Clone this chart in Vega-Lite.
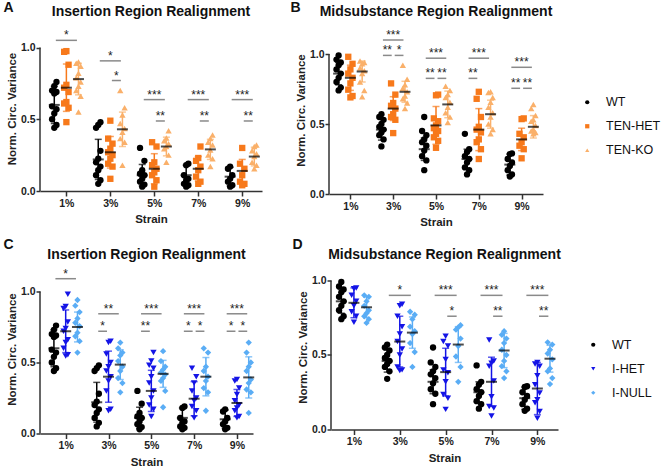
{
  "$schema": "https://vega.github.io/schema/vega-lite/v6.json",
  "padding": {"left": 3, "top": 0, "right": 0, "bottom": 0},
  "config": {
    "font": "Liberation Sans",
    "view": {"stroke": null},
    "title": {"font": "Liberation Sans", "fontSize": 14, "fontWeight": "bold", "color": "#111"},
    "text": {"font": "Liberation Sans"},
    "axis": {"grid": false, "labelFont": "Liberation Sans", "titleFont": "Liberation Sans", "labelFontSize": 10.5, "labelFontWeight": "bold", "labelColor": "#222", "titleFontSize": 11.5, "titleFontWeight": "bold", "titleColor": "#222", "domainColor": "#333", "domainWidth": 1.5, "tickColor": "#333", "tickWidth": 1.5},
    "axisX": {"tickSize": 5, "labelPadding": 2, "titlePadding": 5, "labelAngle": 0},
    "axisY": {"tickSize": 4, "labelPadding": 1, "titlePadding": 3, "domain": false},
    "legend": {"labelFontSize": 12.5, "labelFont": "Liberation Sans", "labelColor": "#111", "symbolSize": 18, "rowPadding": 11, "labelOffset": 12.5, "padding": 0, "symbolStrokeWidth": 0}
  },
  "datasets": {
    "insTEN": [
      {"strain":1,"group":"WT","value":0.76},{"strain":1,"group":"WT","value":0.73},{"strain":1,"group":"WT","value":0.70},{"strain":1,"group":"WT","value":0.69},{"strain":1,"group":"WT","value":0.68},{"strain":1,"group":"WT","value":0.59},{"strain":1,"group":"WT","value":0.57},{"strain":1,"group":"WT","value":0.54},{"strain":1,"group":"WT","value":0.50},{"strain":1,"group":"WT","value":0.46},{"strain":1,"group":"WT","value":0.44},
      {"strain":1,"group":"TEN-HET","value":0.975},{"strain":1,"group":"TEN-HET","value":0.97},{"strain":1,"group":"TEN-HET","value":0.88},{"strain":1,"group":"TEN-HET","value":0.74},{"strain":1,"group":"TEN-HET","value":0.72},{"strain":1,"group":"TEN-HET","value":0.69},{"strain":1,"group":"TEN-HET","value":0.62},{"strain":1,"group":"TEN-HET","value":0.61},{"strain":1,"group":"TEN-HET","value":0.58},{"strain":1,"group":"TEN-HET","value":0.48},
      {"strain":1,"group":"TEN-KO","value":0.90},{"strain":1,"group":"TEN-KO","value":0.89},{"strain":1,"group":"TEN-KO","value":0.87},{"strain":1,"group":"TEN-KO","value":0.82},{"strain":1,"group":"TEN-KO","value":0.79},{"strain":1,"group":"TEN-KO","value":0.76},{"strain":1,"group":"TEN-KO","value":0.73},{"strain":1,"group":"TEN-KO","value":0.70},{"strain":1,"group":"TEN-KO","value":0.66},{"strain":1,"group":"TEN-KO","value":0.55},
      {"strain":3,"group":"WT","value":0.48},{"strain":3,"group":"WT","value":0.46},{"strain":3,"group":"WT","value":0.44},{"strain":3,"group":"WT","value":0.28},{"strain":3,"group":"WT","value":0.225},{"strain":3,"group":"WT","value":0.20},{"strain":3,"group":"WT","value":0.17},{"strain":3,"group":"WT","value":0.145},{"strain":3,"group":"WT","value":0.11},{"strain":3,"group":"WT","value":0.075},{"strain":3,"group":"WT","value":0.05},
      {"strain":3,"group":"TEN-HET","value":0.49},{"strain":3,"group":"TEN-HET","value":0.365},{"strain":3,"group":"TEN-HET","value":0.33},{"strain":3,"group":"TEN-HET","value":0.295},{"strain":3,"group":"TEN-HET","value":0.27},{"strain":3,"group":"TEN-HET","value":0.25},{"strain":3,"group":"TEN-HET","value":0.225},{"strain":3,"group":"TEN-HET","value":0.19},{"strain":3,"group":"TEN-HET","value":0.17},{"strain":3,"group":"TEN-HET","value":0.085},
      {"strain":3,"group":"TEN-KO","value":0.70},{"strain":3,"group":"TEN-KO","value":0.58},{"strain":3,"group":"TEN-KO","value":0.53},{"strain":3,"group":"TEN-KO","value":0.47},{"strain":3,"group":"TEN-KO","value":0.435},{"strain":3,"group":"TEN-KO","value":0.41},{"strain":3,"group":"TEN-KO","value":0.365},{"strain":3,"group":"TEN-KO","value":0.34},{"strain":3,"group":"TEN-KO","value":0.18},
      {"strain":5,"group":"WT","value":0.30},{"strain":5,"group":"WT","value":0.21},{"strain":5,"group":"WT","value":0.145},{"strain":5,"group":"WT","value":0.12},{"strain":5,"group":"WT","value":0.11},{"strain":5,"group":"WT","value":0.085},{"strain":5,"group":"WT","value":0.065},{"strain":5,"group":"WT","value":0.045},{"strain":5,"group":"WT","value":0.03},
      {"strain":5,"group":"TEN-HET","value":0.34},{"strain":5,"group":"TEN-HET","value":0.31},{"strain":5,"group":"TEN-HET","value":0.20},{"strain":5,"group":"TEN-HET","value":0.18},{"strain":5,"group":"TEN-HET","value":0.155},{"strain":5,"group":"TEN-HET","value":0.13},{"strain":5,"group":"TEN-HET","value":0.11},{"strain":5,"group":"TEN-HET","value":0.075},{"strain":5,"group":"TEN-HET","value":0.03},
      {"strain":5,"group":"TEN-KO","value":0.42},{"strain":5,"group":"TEN-KO","value":0.37},{"strain":5,"group":"TEN-KO","value":0.35},{"strain":5,"group":"TEN-KO","value":0.33},{"strain":5,"group":"TEN-KO","value":0.31},{"strain":5,"group":"TEN-KO","value":0.295},{"strain":5,"group":"TEN-KO","value":0.25},{"strain":5,"group":"TEN-KO","value":0.20},
      {"strain":7,"group":"WT","value":0.19},{"strain":7,"group":"WT","value":0.18},{"strain":7,"group":"WT","value":0.11},{"strain":7,"group":"WT","value":0.085},{"strain":7,"group":"WT","value":0.075},{"strain":7,"group":"WT","value":0.05},{"strain":7,"group":"WT","value":0.04},{"strain":7,"group":"WT","value":0.03},
      {"strain":7,"group":"TEN-HET","value":0.31},{"strain":7,"group":"TEN-HET","value":0.23},{"strain":7,"group":"TEN-HET","value":0.21},{"strain":7,"group":"TEN-HET","value":0.17},{"strain":7,"group":"TEN-HET","value":0.145},{"strain":7,"group":"TEN-HET","value":0.10},{"strain":7,"group":"TEN-HET","value":0.065},{"strain":7,"group":"TEN-HET","value":0.05},
      {"strain":7,"group":"TEN-KO","value":0.39},{"strain":7,"group":"TEN-KO","value":0.365},{"strain":7,"group":"TEN-KO","value":0.34},{"strain":7,"group":"TEN-KO","value":0.32},{"strain":7,"group":"TEN-KO","value":0.285},{"strain":7,"group":"TEN-KO","value":0.25},{"strain":7,"group":"TEN-KO","value":0.225},{"strain":7,"group":"TEN-KO","value":0.17},
      {"strain":9,"group":"WT","value":0.17},{"strain":9,"group":"WT","value":0.155},{"strain":9,"group":"WT","value":0.11},{"strain":9,"group":"WT","value":0.085},{"strain":9,"group":"WT","value":0.065},{"strain":9,"group":"WT","value":0.04},{"strain":9,"group":"WT","value":0.03},
      {"strain":9,"group":"TEN-HET","value":0.30},{"strain":9,"group":"TEN-HET","value":0.19},{"strain":9,"group":"TEN-HET","value":0.155},{"strain":9,"group":"TEN-HET","value":0.11},{"strain":9,"group":"TEN-HET","value":0.065},{"strain":9,"group":"TEN-HET","value":0.05},{"strain":9,"group":"TEN-HET","value":0.04},
      {"strain":9,"group":"TEN-KO","value":0.32},{"strain":9,"group":"TEN-KO","value":0.31},{"strain":9,"group":"TEN-KO","value":0.28},{"strain":9,"group":"TEN-KO","value":0.26},{"strain":9,"group":"TEN-KO","value":0.24},{"strain":9,"group":"TEN-KO","value":0.20},{"strain":9,"group":"TEN-KO","value":0.18},{"strain":9,"group":"TEN-KO","value":0.155}
    ],
    "insTEN_s": [
      {"strain":1,"group":"WT","mean":0.60,"lo":0.47,"hi":0.73},{"strain":1,"group":"TEN-HET","mean":0.72,"lo":0.555,"hi":0.885},{"strain":1,"group":"TEN-KO","mean":0.78,"lo":0.67,"hi":0.89},
      {"strain":3,"group":"WT","mean":0.22,"lo":0.08,"hi":0.36},{"strain":3,"group":"TEN-HET","mean":0.27,"lo":0.16,"hi":0.38},{"strain":3,"group":"TEN-KO","mean":0.43,"lo":0.31,"hi":0.55},
      {"strain":5,"group":"WT","mean":0.11,"lo":0.035,"hi":0.185},{"strain":5,"group":"TEN-HET","mean":0.155,"lo":0.05,"hi":0.26},{"strain":5,"group":"TEN-KO","mean":0.31,"lo":0.245,"hi":0.375},
      {"strain":7,"group":"WT","mean":0.11,"lo":0.04,"hi":0.18},{"strain":7,"group":"TEN-HET","mean":0.155,"lo":0.07,"hi":0.24},{"strain":7,"group":"TEN-KO","mean":0.29,"lo":0.22,"hi":0.36},
      {"strain":9,"group":"WT","mean":0.10,"lo":0.035,"hi":0.165},{"strain":9,"group":"TEN-HET","mean":0.14,"lo":0.06,"hi":0.22},{"strain":9,"group":"TEN-KO","mean":0.24,"lo":0.175,"hi":0.305}
    ],
    "insTEN_p": [
      {"strain":1,"from":"WT","to":"TEN-KO","y":1.05,"label":"*"},
      {"strain":3,"from":"WT","to":"TEN-KO","y":0.907,"label":"*"},{"strain":3,"from":"TEN-HET","to":"TEN-KO","y":0.77,"label":"*"},
      {"strain":5,"from":"WT","to":"TEN-KO","y":0.637,"label":"***"},{"strain":5,"from":"TEN-HET","to":"TEN-KO","y":0.488,"label":"**"},
      {"strain":7,"from":"WT","to":"TEN-KO","y":0.637,"label":"***"},{"strain":7,"from":"TEN-HET","to":"TEN-KO","y":0.488,"label":"**"},
      {"strain":9,"from":"WT","to":"TEN-KO","y":0.637,"label":"***"},{"strain":9,"from":"TEN-HET","to":"TEN-KO","y":0.488,"label":"**"}
    ],
    "midTEN": [
      {"strain":1,"group":"WT","value":0.99},{"strain":1,"group":"WT","value":0.96},{"strain":1,"group":"WT","value":0.94},{"strain":1,"group":"WT","value":0.92},{"strain":1,"group":"WT","value":0.89},{"strain":1,"group":"WT","value":0.86},{"strain":1,"group":"WT","value":0.83},{"strain":1,"group":"WT","value":0.80},{"strain":1,"group":"WT","value":0.76},{"strain":1,"group":"WT","value":0.74},
      {"strain":1,"group":"TEN-HET","value":0.98},{"strain":1,"group":"TEN-HET","value":0.93},{"strain":1,"group":"TEN-HET","value":0.89},{"strain":1,"group":"TEN-HET","value":0.86},{"strain":1,"group":"TEN-HET","value":0.83},{"strain":1,"group":"TEN-HET","value":0.79},{"strain":1,"group":"TEN-HET","value":0.745},{"strain":1,"group":"TEN-HET","value":0.70},{"strain":1,"group":"TEN-HET","value":0.69},
      {"strain":1,"group":"TEN-KO","value":0.95},{"strain":1,"group":"TEN-KO","value":0.94},{"strain":1,"group":"TEN-KO","value":0.93},{"strain":1,"group":"TEN-KO","value":0.90},{"strain":1,"group":"TEN-KO","value":0.88},{"strain":1,"group":"TEN-KO","value":0.86},{"strain":1,"group":"TEN-KO","value":0.80},{"strain":1,"group":"TEN-KO","value":0.74},{"strain":1,"group":"TEN-KO","value":0.695},
      {"strain":3,"group":"WT","value":0.57},{"strain":3,"group":"WT","value":0.55},{"strain":3,"group":"WT","value":0.53},{"strain":3,"group":"WT","value":0.50},{"strain":3,"group":"WT","value":0.48},{"strain":3,"group":"WT","value":0.46},{"strain":3,"group":"WT","value":0.44},{"strain":3,"group":"WT","value":0.42},{"strain":3,"group":"WT","value":0.39},{"strain":3,"group":"WT","value":0.34},
      {"strain":3,"group":"TEN-HET","value":0.79},{"strain":3,"group":"TEN-HET","value":0.71},{"strain":3,"group":"TEN-HET","value":0.65},{"strain":3,"group":"TEN-HET","value":0.63},{"strain":3,"group":"TEN-HET","value":0.61},{"strain":3,"group":"TEN-HET","value":0.57},{"strain":3,"group":"TEN-HET","value":0.55},{"strain":3,"group":"TEN-HET","value":0.53},{"strain":3,"group":"TEN-HET","value":0.435},
      {"strain":3,"group":"TEN-KO","value":0.92},{"strain":3,"group":"TEN-KO","value":0.82},{"strain":3,"group":"TEN-KO","value":0.78},{"strain":3,"group":"TEN-KO","value":0.755},{"strain":3,"group":"TEN-KO","value":0.73},{"strain":3,"group":"TEN-KO","value":0.70},{"strain":3,"group":"TEN-KO","value":0.68},{"strain":3,"group":"TEN-KO","value":0.65},{"strain":3,"group":"TEN-KO","value":0.61},
      {"strain":5,"group":"WT","value":0.55},{"strain":5,"group":"WT","value":0.45},{"strain":5,"group":"WT","value":0.42},{"strain":5,"group":"WT","value":0.39},{"strain":5,"group":"WT","value":0.37},{"strain":5,"group":"WT","value":0.345},{"strain":5,"group":"WT","value":0.31},{"strain":5,"group":"WT","value":0.27},{"strain":5,"group":"WT","value":0.24},{"strain":5,"group":"WT","value":0.17},
      {"strain":5,"group":"TEN-HET","value":0.71},{"strain":5,"group":"TEN-HET","value":0.705},{"strain":5,"group":"TEN-HET","value":0.54},{"strain":5,"group":"TEN-HET","value":0.52},{"strain":5,"group":"TEN-HET","value":0.49},{"strain":5,"group":"TEN-HET","value":0.47},{"strain":5,"group":"TEN-HET","value":0.45},{"strain":5,"group":"TEN-HET","value":0.43},{"strain":5,"group":"TEN-HET","value":0.405},{"strain":5,"group":"TEN-HET","value":0.38},{"strain":5,"group":"TEN-HET","value":0.33},
      {"strain":5,"group":"TEN-KO","value":0.77},{"strain":5,"group":"TEN-KO","value":0.74},{"strain":5,"group":"TEN-KO","value":0.71},{"strain":5,"group":"TEN-KO","value":0.69},{"strain":5,"group":"TEN-KO","value":0.655},{"strain":5,"group":"TEN-KO","value":0.62},{"strain":5,"group":"TEN-KO","value":0.58},{"strain":5,"group":"TEN-KO","value":0.55},{"strain":5,"group":"TEN-KO","value":0.51},
      {"strain":7,"group":"WT","value":0.43},{"strain":7,"group":"WT","value":0.32},{"strain":7,"group":"WT","value":0.30},{"strain":7,"group":"WT","value":0.27},{"strain":7,"group":"WT","value":0.25},{"strain":7,"group":"WT","value":0.225},{"strain":7,"group":"WT","value":0.19},{"strain":7,"group":"WT","value":0.17},{"strain":7,"group":"WT","value":0.14},
      {"strain":7,"group":"TEN-HET","value":0.73},{"strain":7,"group":"TEN-HET","value":0.68},{"strain":7,"group":"TEN-HET","value":0.55},{"strain":7,"group":"TEN-HET","value":0.48},{"strain":7,"group":"TEN-HET","value":0.46},{"strain":7,"group":"TEN-HET","value":0.44},{"strain":7,"group":"TEN-HET","value":0.39},{"strain":7,"group":"TEN-HET","value":0.37},{"strain":7,"group":"TEN-HET","value":0.32},{"strain":7,"group":"TEN-HET","value":0.25},
      {"strain":7,"group":"TEN-KO","value":0.73},{"strain":7,"group":"TEN-KO","value":0.725},{"strain":7,"group":"TEN-KO","value":0.69},{"strain":7,"group":"TEN-KO","value":0.655},{"strain":7,"group":"TEN-KO","value":0.62},{"strain":7,"group":"TEN-KO","value":0.58},{"strain":7,"group":"TEN-KO","value":0.55},{"strain":7,"group":"TEN-KO","value":0.50},{"strain":7,"group":"TEN-KO","value":0.46},{"strain":7,"group":"TEN-KO","value":0.43},
      {"strain":9,"group":"WT","value":0.29},{"strain":9,"group":"WT","value":0.285},{"strain":9,"group":"WT","value":0.25},{"strain":9,"group":"WT","value":0.225},{"strain":9,"group":"WT","value":0.20},{"strain":9,"group":"WT","value":0.17},{"strain":9,"group":"WT","value":0.14},{"strain":9,"group":"WT","value":0.125},
      {"strain":9,"group":"TEN-HET","value":0.54},{"strain":9,"group":"TEN-HET","value":0.535},{"strain":9,"group":"TEN-HET","value":0.43},{"strain":9,"group":"TEN-HET","value":0.405},{"strain":9,"group":"TEN-HET","value":0.37},{"strain":9,"group":"TEN-HET","value":0.345},{"strain":9,"group":"TEN-HET","value":0.32},{"strain":9,"group":"TEN-HET","value":0.255},
      {"strain":9,"group":"TEN-KO","value":0.64},{"strain":9,"group":"TEN-KO","value":0.61},{"strain":9,"group":"TEN-KO","value":0.56},{"strain":9,"group":"TEN-KO","value":0.53},{"strain":9,"group":"TEN-KO","value":0.52},{"strain":9,"group":"TEN-KO","value":0.49},{"strain":9,"group":"TEN-KO","value":0.46},{"strain":9,"group":"TEN-KO","value":0.45},{"strain":9,"group":"TEN-KO","value":0.44},{"strain":9,"group":"TEN-KO","value":0.43}
    ],
    "midTEN_s": [
      {"strain":1,"group":"WT","mean":0.86,"lo":0.78,"hi":0.94},{"strain":1,"group":"TEN-HET","mean":0.83,"lo":0.74,"hi":0.92},{"strain":1,"group":"TEN-KO","mean":0.875,"lo":0.80,"hi":0.95},
      {"strain":3,"group":"WT","mean":0.46,"lo":0.385,"hi":0.535},{"strain":3,"group":"TEN-HET","mean":0.61,"lo":0.525,"hi":0.695},{"strain":3,"group":"TEN-KO","mean":0.73,"lo":0.655,"hi":0.805},
      {"strain":5,"group":"WT","mean":0.32,"lo":0.24,"hi":0.40},{"strain":5,"group":"TEN-HET","mean":0.49,"lo":0.355,"hi":0.625},{"strain":5,"group":"TEN-KO","mean":0.64,"lo":0.545,"hi":0.735},
      {"strain":7,"group":"WT","mean":0.25,"lo":0.18,"hi":0.32},{"strain":7,"group":"TEN-HET","mean":0.46,"lo":0.31,"hi":0.61},{"strain":7,"group":"TEN-KO","mean":0.57,"lo":0.47,"hi":0.67},
      {"strain":9,"group":"WT","mean":0.21,"lo":0.135,"hi":0.285},{"strain":9,"group":"TEN-HET","mean":0.39,"lo":0.31,"hi":0.47},{"strain":9,"group":"TEN-KO","mean":0.48,"lo":0.40,"hi":0.56}
    ],
    "midTEN_p": [
      {"strain":3,"from":"WT","to":"TEN-KO","y":1.10,"label":"***"},{"strain":3,"from":"WT","to":"TEN-HET","y":0.99,"label":"**"},{"strain":3,"from":"TEN-HET","to":"TEN-KO","y":0.99,"label":"*"},
      {"strain":5,"from":"WT","to":"TEN-KO","y":0.97,"label":"***"},{"strain":5,"from":"WT","to":"TEN-HET","y":0.826,"label":"**"},{"strain":5,"from":"TEN-HET","to":"TEN-KO","y":0.826,"label":"**"},
      {"strain":7,"from":"WT","to":"TEN-KO","y":0.97,"label":"***"},{"strain":7,"from":"WT","to":"TEN-HET","y":0.826,"label":"**"},
      {"strain":9,"from":"WT","to":"TEN-KO","y":0.905,"label":"***"},{"strain":9,"from":"WT","to":"TEN-HET","y":0.755,"label":"**"},{"strain":9,"from":"TEN-HET","to":"TEN-KO","y":0.755,"label":"**"}
    ],
    "insI": [
      {"strain":1,"group":"WT","value":0.76},{"strain":1,"group":"WT","value":0.73},{"strain":1,"group":"WT","value":0.70},{"strain":1,"group":"WT","value":0.69},{"strain":1,"group":"WT","value":0.68},{"strain":1,"group":"WT","value":0.59},{"strain":1,"group":"WT","value":0.57},{"strain":1,"group":"WT","value":0.54},{"strain":1,"group":"WT","value":0.50},{"strain":1,"group":"WT","value":0.46},{"strain":1,"group":"WT","value":0.44},
      {"strain":1,"group":"I-HET","value":0.98},{"strain":1,"group":"I-HET","value":0.895},{"strain":1,"group":"I-HET","value":0.88},{"strain":1,"group":"I-HET","value":0.785},{"strain":1,"group":"I-HET","value":0.74},{"strain":1,"group":"I-HET","value":0.72},{"strain":1,"group":"I-HET","value":0.66},{"strain":1,"group":"I-HET","value":0.64},{"strain":1,"group":"I-HET","value":0.60},{"strain":1,"group":"I-HET","value":0.555},{"strain":1,"group":"I-HET","value":0.545},
      {"strain":1,"group":"I-NULL","value":0.94},{"strain":1,"group":"I-NULL","value":0.90},{"strain":1,"group":"I-NULL","value":0.855},{"strain":1,"group":"I-NULL","value":0.81},{"strain":1,"group":"I-NULL","value":0.78},{"strain":1,"group":"I-NULL","value":0.755},{"strain":1,"group":"I-NULL","value":0.71},{"strain":1,"group":"I-NULL","value":0.685},{"strain":1,"group":"I-NULL","value":0.65},{"strain":1,"group":"I-NULL","value":0.57},
      {"strain":3,"group":"WT","value":0.48},{"strain":3,"group":"WT","value":0.46},{"strain":3,"group":"WT","value":0.44},{"strain":3,"group":"WT","value":0.28},{"strain":3,"group":"WT","value":0.225},{"strain":3,"group":"WT","value":0.20},{"strain":3,"group":"WT","value":0.17},{"strain":3,"group":"WT","value":0.145},{"strain":3,"group":"WT","value":0.11},{"strain":3,"group":"WT","value":0.075},{"strain":3,"group":"WT","value":0.05},
      {"strain":3,"group":"I-HET","value":0.65},{"strain":3,"group":"I-HET","value":0.64},{"strain":3,"group":"I-HET","value":0.56},{"strain":3,"group":"I-HET","value":0.50},{"strain":3,"group":"I-HET","value":0.47},{"strain":3,"group":"I-HET","value":0.44},{"strain":3,"group":"I-HET","value":0.40},{"strain":3,"group":"I-HET","value":0.37},{"strain":3,"group":"I-HET","value":0.30},{"strain":3,"group":"I-HET","value":0.17},{"strain":3,"group":"I-HET","value":0.16},
      {"strain":3,"group":"I-NULL","value":0.64},{"strain":3,"group":"I-NULL","value":0.60},{"strain":3,"group":"I-NULL","value":0.57},{"strain":3,"group":"I-NULL","value":0.55},{"strain":3,"group":"I-NULL","value":0.51},{"strain":3,"group":"I-NULL","value":0.47},{"strain":3,"group":"I-NULL","value":0.44},{"strain":3,"group":"I-NULL","value":0.39},{"strain":3,"group":"I-NULL","value":0.355},{"strain":3,"group":"I-NULL","value":0.29},
      {"strain":5,"group":"WT","value":0.30},{"strain":5,"group":"WT","value":0.21},{"strain":5,"group":"WT","value":0.145},{"strain":5,"group":"WT","value":0.12},{"strain":5,"group":"WT","value":0.11},{"strain":5,"group":"WT","value":0.085},{"strain":5,"group":"WT","value":0.065},{"strain":5,"group":"WT","value":0.045},{"strain":5,"group":"WT","value":0.03},
      {"strain":5,"group":"I-HET","value":0.57},{"strain":5,"group":"I-HET","value":0.51},{"strain":5,"group":"I-HET","value":0.48},{"strain":5,"group":"I-HET","value":0.46},{"strain":5,"group":"I-HET","value":0.40},{"strain":5,"group":"I-HET","value":0.355},{"strain":5,"group":"I-HET","value":0.30},{"strain":5,"group":"I-HET","value":0.25},{"strain":5,"group":"I-HET","value":0.20},{"strain":5,"group":"I-HET","value":0.17},{"strain":5,"group":"I-HET","value":0.12},
      {"strain":5,"group":"I-NULL","value":0.58},{"strain":5,"group":"I-NULL","value":0.51},{"strain":5,"group":"I-NULL","value":0.47},{"strain":5,"group":"I-NULL","value":0.45},{"strain":5,"group":"I-NULL","value":0.43},{"strain":5,"group":"I-NULL","value":0.415},{"strain":5,"group":"I-NULL","value":0.39},{"strain":5,"group":"I-NULL","value":0.37},{"strain":5,"group":"I-NULL","value":0.30},{"strain":5,"group":"I-NULL","value":0.185},
      {"strain":7,"group":"WT","value":0.19},{"strain":7,"group":"WT","value":0.18},{"strain":7,"group":"WT","value":0.11},{"strain":7,"group":"WT","value":0.085},{"strain":7,"group":"WT","value":0.075},{"strain":7,"group":"WT","value":0.05},{"strain":7,"group":"WT","value":0.04},{"strain":7,"group":"WT","value":0.03},
      {"strain":7,"group":"I-HET","value":0.46},{"strain":7,"group":"I-HET","value":0.40},{"strain":7,"group":"I-HET","value":0.355},{"strain":7,"group":"I-HET","value":0.30},{"strain":7,"group":"I-HET","value":0.25},{"strain":7,"group":"I-HET","value":0.23},{"strain":7,"group":"I-HET","value":0.19},{"strain":7,"group":"I-HET","value":0.16},{"strain":7,"group":"I-HET","value":0.11},
      {"strain":7,"group":"I-NULL","value":0.60},{"strain":7,"group":"I-NULL","value":0.57},{"strain":7,"group":"I-NULL","value":0.47},{"strain":7,"group":"I-NULL","value":0.44},{"strain":7,"group":"I-NULL","value":0.40},{"strain":7,"group":"I-NULL","value":0.37},{"strain":7,"group":"I-NULL","value":0.32},{"strain":7,"group":"I-NULL","value":0.29},{"strain":7,"group":"I-NULL","value":0.16},
      {"strain":9,"group":"WT","value":0.17},{"strain":9,"group":"WT","value":0.155},{"strain":9,"group":"WT","value":0.11},{"strain":9,"group":"WT","value":0.085},{"strain":9,"group":"WT","value":0.065},{"strain":9,"group":"WT","value":0.04},{"strain":9,"group":"WT","value":0.03},
      {"strain":9,"group":"I-HET","value":0.38},{"strain":9,"group":"I-HET","value":0.37},{"strain":9,"group":"I-HET","value":0.32},{"strain":9,"group":"I-HET","value":0.275},{"strain":9,"group":"I-HET","value":0.23},{"strain":9,"group":"I-HET","value":0.20},{"strain":9,"group":"I-HET","value":0.18},{"strain":9,"group":"I-HET","value":0.16},{"strain":9,"group":"I-HET","value":0.12},{"strain":9,"group":"I-HET","value":0.11},
      {"strain":9,"group":"I-NULL","value":0.64},{"strain":9,"group":"I-NULL","value":0.57},{"strain":9,"group":"I-NULL","value":0.50},{"strain":9,"group":"I-NULL","value":0.47},{"strain":9,"group":"I-NULL","value":0.44},{"strain":9,"group":"I-NULL","value":0.38},{"strain":9,"group":"I-NULL","value":0.355},{"strain":9,"group":"I-NULL","value":0.31},{"strain":9,"group":"I-NULL","value":0.29},{"strain":9,"group":"I-NULL","value":0.145}
    ],
    "insI_s": [
      {"strain":1,"group":"WT","mean":0.60,"lo":0.47,"hi":0.73},{"strain":1,"group":"I-HET","mean":0.72,"lo":0.57,"hi":0.87},{"strain":1,"group":"I-NULL","mean":0.75,"lo":0.645,"hi":0.855},
      {"strain":3,"group":"WT","mean":0.22,"lo":0.08,"hi":0.36},{"strain":3,"group":"I-HET","mean":0.40,"lo":0.22,"hi":0.58},{"strain":3,"group":"I-NULL","mean":0.485,"lo":0.38,"hi":0.59},
      {"strain":5,"group":"WT","mean":0.11,"lo":0.035,"hi":0.185},{"strain":5,"group":"I-HET","mean":0.30,"lo":0.155,"hi":0.445},{"strain":5,"group":"I-NULL","mean":0.42,"lo":0.325,"hi":0.515},
      {"strain":7,"group":"WT","mean":0.11,"lo":0.04,"hi":0.18},{"strain":7,"group":"I-HET","mean":0.245,"lo":0.125,"hi":0.365},{"strain":7,"group":"I-NULL","mean":0.40,"lo":0.265,"hi":0.535},
      {"strain":9,"group":"WT","mean":0.10,"lo":0.035,"hi":0.165},{"strain":9,"group":"I-HET","mean":0.215,"lo":0.12,"hi":0.31},{"strain":9,"group":"I-NULL","mean":0.395,"lo":0.25,"hi":0.54}
    ],
    "insI_p": [
      {"strain":1,"from":"WT","to":"I-NULL","y":1.09,"label":"*"},
      {"strain":3,"from":"WT","to":"I-NULL","y":0.843,"label":"**"},{"strain":3,"from":"WT","to":"I-HET","y":0.72,"label":"*"},
      {"strain":5,"from":"WT","to":"I-NULL","y":0.843,"label":"***"},{"strain":5,"from":"WT","to":"I-HET","y":0.72,"label":"**"},
      {"strain":7,"from":"WT","to":"I-NULL","y":0.843,"label":"***"},{"strain":7,"from":"WT","to":"I-HET","y":0.72,"label":"*"},{"strain":7,"from":"I-HET","to":"I-NULL","y":0.72,"label":"*"},
      {"strain":9,"from":"WT","to":"I-NULL","y":0.843,"label":"***"},{"strain":9,"from":"WT","to":"I-HET","y":0.72,"label":"*"},{"strain":9,"from":"I-HET","to":"I-NULL","y":0.72,"label":"*"}
    ],
    "midI": [
      {"strain":1,"group":"WT","value":0.99},{"strain":1,"group":"WT","value":0.96},{"strain":1,"group":"WT","value":0.94},{"strain":1,"group":"WT","value":0.92},{"strain":1,"group":"WT","value":0.89},{"strain":1,"group":"WT","value":0.86},{"strain":1,"group":"WT","value":0.83},{"strain":1,"group":"WT","value":0.80},{"strain":1,"group":"WT","value":0.76},{"strain":1,"group":"WT","value":0.74},
      {"strain":1,"group":"I-HET","value":0.95},{"strain":1,"group":"I-HET","value":0.945},{"strain":1,"group":"I-HET","value":0.90},{"strain":1,"group":"I-HET","value":0.86},{"strain":1,"group":"I-HET","value":0.83},{"strain":1,"group":"I-HET","value":0.79},{"strain":1,"group":"I-HET","value":0.76},{"strain":1,"group":"I-HET","value":0.72},
      {"strain":1,"group":"I-NULL","value":0.90},{"strain":1,"group":"I-NULL","value":0.89},{"strain":1,"group":"I-NULL","value":0.86},{"strain":1,"group":"I-NULL","value":0.83},{"strain":1,"group":"I-NULL","value":0.80},{"strain":1,"group":"I-NULL","value":0.78},{"strain":1,"group":"I-NULL","value":0.76},{"strain":1,"group":"I-NULL","value":0.74},{"strain":1,"group":"I-NULL","value":0.715},
      {"strain":3,"group":"WT","value":0.57},{"strain":3,"group":"WT","value":0.55},{"strain":3,"group":"WT","value":0.53},{"strain":3,"group":"WT","value":0.50},{"strain":3,"group":"WT","value":0.48},{"strain":3,"group":"WT","value":0.46},{"strain":3,"group":"WT","value":0.44},{"strain":3,"group":"WT","value":0.42},{"strain":3,"group":"WT","value":0.39},{"strain":3,"group":"WT","value":0.34},
      {"strain":3,"group":"I-HET","value":0.84},{"strain":3,"group":"I-HET","value":0.83},{"strain":3,"group":"I-HET","value":0.76},{"strain":3,"group":"I-HET","value":0.69},{"strain":3,"group":"I-HET","value":0.64},{"strain":3,"group":"I-HET","value":0.59},{"strain":3,"group":"I-HET","value":0.54},{"strain":3,"group":"I-HET","value":0.50},{"strain":3,"group":"I-HET","value":0.42},{"strain":3,"group":"I-HET","value":0.40},{"strain":3,"group":"I-HET","value":0.395},
      {"strain":3,"group":"I-NULL","value":0.79},{"strain":3,"group":"I-NULL","value":0.77},{"strain":3,"group":"I-NULL","value":0.74},{"strain":3,"group":"I-NULL","value":0.69},{"strain":3,"group":"I-NULL","value":0.66},{"strain":3,"group":"I-NULL","value":0.64},{"strain":3,"group":"I-NULL","value":0.58},{"strain":3,"group":"I-NULL","value":0.52},{"strain":3,"group":"I-NULL","value":0.42},
      {"strain":5,"group":"WT","value":0.55},{"strain":5,"group":"WT","value":0.45},{"strain":5,"group":"WT","value":0.42},{"strain":5,"group":"WT","value":0.39},{"strain":5,"group":"WT","value":0.37},{"strain":5,"group":"WT","value":0.345},{"strain":5,"group":"WT","value":0.31},{"strain":5,"group":"WT","value":0.27},{"strain":5,"group":"WT","value":0.24},{"strain":5,"group":"WT","value":0.17},
      {"strain":5,"group":"I-HET","value":0.625},{"strain":5,"group":"I-HET","value":0.59},{"strain":5,"group":"I-HET","value":0.56},{"strain":5,"group":"I-HET","value":0.47},{"strain":5,"group":"I-HET","value":0.40},{"strain":5,"group":"I-HET","value":0.38},{"strain":5,"group":"I-HET","value":0.32},{"strain":5,"group":"I-HET","value":0.235},{"strain":5,"group":"I-HET","value":0.21},{"strain":5,"group":"I-HET","value":0.135},
      {"strain":5,"group":"I-NULL","value":0.70},{"strain":5,"group":"I-NULL","value":0.685},{"strain":5,"group":"I-NULL","value":0.67},{"strain":5,"group":"I-NULL","value":0.61},{"strain":5,"group":"I-NULL","value":0.56},{"strain":5,"group":"I-NULL","value":0.49},{"strain":5,"group":"I-NULL","value":0.42},{"strain":5,"group":"I-NULL","value":0.32},
      {"strain":7,"group":"WT","value":0.43},{"strain":7,"group":"WT","value":0.32},{"strain":7,"group":"WT","value":0.30},{"strain":7,"group":"WT","value":0.27},{"strain":7,"group":"WT","value":0.25},{"strain":7,"group":"WT","value":0.225},{"strain":7,"group":"WT","value":0.19},{"strain":7,"group":"WT","value":0.17},{"strain":7,"group":"WT","value":0.14},
      {"strain":7,"group":"I-HET","value":0.60},{"strain":7,"group":"I-HET","value":0.46},{"strain":7,"group":"I-HET","value":0.445},{"strain":7,"group":"I-HET","value":0.425},{"strain":7,"group":"I-HET","value":0.325},{"strain":7,"group":"I-HET","value":0.22},{"strain":7,"group":"I-HET","value":0.155},{"strain":7,"group":"I-HET","value":0.145},{"strain":7,"group":"I-HET","value":0.09},
      {"strain":7,"group":"I-NULL","value":0.66},{"strain":7,"group":"I-NULL","value":0.635},{"strain":7,"group":"I-NULL","value":0.61},{"strain":7,"group":"I-NULL","value":0.58},{"strain":7,"group":"I-NULL","value":0.535},{"strain":7,"group":"I-NULL","value":0.50},{"strain":7,"group":"I-NULL","value":0.46},{"strain":7,"group":"I-NULL","value":0.425},{"strain":7,"group":"I-NULL","value":0.39},{"strain":7,"group":"I-NULL","value":0.345},
      {"strain":9,"group":"WT","value":0.29},{"strain":9,"group":"WT","value":0.285},{"strain":9,"group":"WT","value":0.25},{"strain":9,"group":"WT","value":0.225},{"strain":9,"group":"WT","value":0.20},{"strain":9,"group":"WT","value":0.17},{"strain":9,"group":"WT","value":0.14},{"strain":9,"group":"WT","value":0.125},
      {"strain":9,"group":"I-HET","value":0.45},{"strain":9,"group":"I-HET","value":0.44},{"strain":9,"group":"I-HET","value":0.425},{"strain":9,"group":"I-HET","value":0.36},{"strain":9,"group":"I-HET","value":0.30},{"strain":9,"group":"I-HET","value":0.245},{"strain":9,"group":"I-HET","value":0.20},{"strain":9,"group":"I-HET","value":0.18},{"strain":9,"group":"I-HET","value":0.12},{"strain":9,"group":"I-HET","value":0.075},
      {"strain":9,"group":"I-NULL","value":0.585},{"strain":9,"group":"I-NULL","value":0.57},{"strain":9,"group":"I-NULL","value":0.535},{"strain":9,"group":"I-NULL","value":0.51},{"strain":9,"group":"I-NULL","value":0.47},{"strain":9,"group":"I-NULL","value":0.41},{"strain":9,"group":"I-NULL","value":0.39},{"strain":9,"group":"I-NULL","value":0.345},{"strain":9,"group":"I-NULL","value":0.305}
    ],
    "midI_s": [
      {"strain":1,"group":"WT","mean":0.86,"lo":0.78,"hi":0.94},{"strain":1,"group":"I-HET","mean":0.85,"lo":0.75,"hi":0.95},{"strain":1,"group":"I-NULL","mean":0.82,"lo":0.75,"hi":0.89},
      {"strain":3,"group":"WT","mean":0.46,"lo":0.385,"hi":0.535},{"strain":3,"group":"I-HET","mean":0.59,"lo":0.42,"hi":0.76},{"strain":3,"group":"I-NULL","mean":0.65,"lo":0.545,"hi":0.755},
      {"strain":5,"group":"WT","mean":0.32,"lo":0.24,"hi":0.40},{"strain":5,"group":"I-HET","mean":0.385,"lo":0.225,"hi":0.545},{"strain":5,"group":"I-NULL","mean":0.57,"lo":0.45,"hi":0.69},
      {"strain":7,"group":"WT","mean":0.25,"lo":0.18,"hi":0.32},{"strain":7,"group":"I-HET","mean":0.32,"lo":0.155,"hi":0.485},{"strain":7,"group":"I-NULL","mean":0.53,"lo":0.415,"hi":0.645},
      {"strain":9,"group":"WT","mean":0.21,"lo":0.135,"hi":0.285},{"strain":9,"group":"I-HET","mean":0.275,"lo":0.10,"hi":0.45},{"strain":9,"group":"I-NULL","mean":0.475,"lo":0.385,"hi":0.565}
    ],
    "midI_p": [
      {"strain":3,"from":"WT","to":"I-NULL","y":0.90,"label":"*"},
      {"strain":5,"from":"WT","to":"I-NULL","y":0.90,"label":"***"},{"strain":5,"from":"I-HET","to":"I-NULL","y":0.76,"label":"*"},
      {"strain":7,"from":"WT","to":"I-NULL","y":0.90,"label":"***"},{"strain":7,"from":"I-HET","to":"I-NULL","y":0.76,"label":"**"},
      {"strain":9,"from":"WT","to":"I-NULL","y":0.90,"label":"***"},{"strain":9,"from":"I-HET","to":"I-NULL","y":0.76,"label":"**"}
    ]
  },
  "spacing": 9.5,
  "resolve": {"scale": {"color": "independent", "shape": "independent"}},
  "vconcat": [
    {
      "spacing": 28,
      "resolve": {"scale": {"color": "independent", "shape": "independent"}},
      "hconcat": [
        {
          "title": {"text": "A", "anchor": "start", "frame": "bounds", "offset": -9.5, "dx": -3, "fontSize": 14},
          "resolve": {"scale": {"color": "independent", "shape": "independent"}},
          "vconcat": [{
            "width": 222, "height": 165,
            "title": {"text": "Insertion Region Realignment", "frame": "group", "offset": 7},
            "layer": [
              {
                "data": {"name": "insTEN"},
                "transform": [
                  {"window": [{"op": "row_number", "as": "rk"}], "groupby": ["strain", "group"], "sort": [{"field": "value", "order": "ascending"}]},
                  {"calculate": "datum.strain + 0.55 * (indexof(['WT','TEN-HET','TEN-KO'], datum.group) - 1) + 0.1 * (datum.rk % 3 - 1)", "as": "xp"}
                ],
                "mark": {"type": "point", "filled": true, "size": 40, "opacity": 1},
                "encoding": {
                  "x": {"field": "xp", "type": "quantitative", "scale": {"domain": [-0.2, 9.9], "nice": false, "zero": false}, "axis": {"values": [1, 3, 5, 7, 9], "labelExpr": "datum.value + '%'", "title": "Strain"}},
                  "y": {"field": "value", "type": "quantitative", "scale": {"domain": [0, 1.15], "nice": false}, "axis": {"values": [0, 0.5, 1], "format": ".1f", "title": "Norm. Circ. Variance"}},
                  "color": {"field": "group", "type": "nominal", "scale": {"domain": ["WT", "TEN-HET", "TEN-KO"], "range": ["#000000", "#F7791B", "#FAB06A"]}, "legend": null},
                  "shape": {"field": "group", "type": "nominal", "scale": {"domain": ["WT", "TEN-HET", "TEN-KO"], "range": ["circle", "square", "triangle-up"]}, "legend": null}
                }
              },
              {
                "data": {"values": [{}]},
                "mark": {"type": "rule", "color": "#333", "strokeWidth": 1.5},
                "encoding": {"x": {"datum": -0.2}, "y": {"datum": 0}, "y2": {"datum": 1}}
              },
              {
                "data": {"name": "insTEN_s"},
                "transform": [{"calculate": "datum.strain + 0.55 * (indexof(['WT','TEN-HET','TEN-KO'], datum.group) - 1)", "as": "xp"}],
                "layer": [
                  {"mark": {"type": "rule", "strokeWidth": 1.5}, "encoding": {"x": {"field": "xp", "type": "quantitative"}, "y": {"field": "lo", "type": "quantitative"}, "y2": {"field": "hi"}, "color": {"field": "group", "type": "nominal", "legend": null}}},
                  {"transform": [{"fold": ["lo", "hi"], "as": ["end", "ev"]}], "mark": {"type": "tick", "orient": "horizontal", "size": 7, "thickness": 1.5}, "encoding": {"x": {"field": "xp", "type": "quantitative"}, "y": {"field": "ev", "type": "quantitative"}, "color": {"field": "group", "type": "nominal", "legend": null}}},
                  {"mark": {"type": "tick", "orient": "horizontal", "size": 11, "thickness": 2, "color": "#000"}, "encoding": {"x": {"field": "xp", "type": "quantitative"}, "y": {"field": "mean", "type": "quantitative"}}}
                ]
              },
              {
                "data": {"name": "insTEN_p"},
                "transform": [
                  {"calculate": "datum.strain + 0.55 * (indexof(['WT','TEN-HET','TEN-KO'], datum.from) - 1) + 0.07", "as": "x1"},
                  {"calculate": "datum.strain + 0.55 * (indexof(['WT','TEN-HET','TEN-KO'], datum.to) - 1) - 0.07", "as": "x2"},
                  {"calculate": "(datum.x1 + datum.x2) / 2", "as": "xm"}
                ],
                "layer": [
                  {"mark": {"type": "rule", "color": "#8a8a8a", "strokeWidth": 1.5}, "encoding": {"x": {"field": "x1", "type": "quantitative"}, "x2": {"field": "x2"}, "y": {"field": "y", "type": "quantitative"}}},
                  {"mark": {"type": "text", "baseline": "alphabetic", "dy": -1, "fontSize": 12, "color": "#222"}, "encoding": {"x": {"field": "xm", "type": "quantitative"}, "y": {"field": "y", "type": "quantitative"}, "text": {"field": "label"}}}
                ]
              }
            ]
          }]
        },
        {
          "title": {"text": "B", "anchor": "start", "frame": "bounds", "offset": -9.5, "dx": -5, "fontSize": 14},
          "resolve": {"scale": {"color": "independent", "shape": "independent"}},
          "vconcat": [{
            "width": 214, "height": 168,
            "title": {"text": "Midsubstance Region Realignment", "frame": "group", "offset": 7},
            "layer": [
              {
                "data": {"name": "midTEN"},
                "transform": [
                  {"window": [{"op": "row_number", "as": "rk"}], "groupby": ["strain", "group"], "sort": [{"field": "value", "order": "ascending"}]},
                  {"calculate": "datum.strain + 0.55 * (indexof(['WT','TEN-HET','TEN-KO'], datum.group) - 1) + 0.1 * (datum.rk % 3 - 1)", "as": "xp"}
                ],
                "mark": {"type": "point", "filled": true, "size": 40, "opacity": 1},
                "encoding": {
                  "x": {"field": "xp", "type": "quantitative", "scale": {"domain": [0, 10], "nice": false, "zero": false}, "axis": {"values": [1, 3, 5, 7, 9], "labelExpr": "datum.value + '%'", "title": "Strain"}},
                  "y": {"field": "value", "type": "quantitative", "scale": {"domain": [0, 1.2], "nice": false}, "axis": {"values": [0, 0.5, 1], "format": ".1f", "title": "Norm. Circ. Variance"}},
                  "color": {"field": "group", "type": "nominal", "scale": {"domain": ["WT", "TEN-HET", "TEN-KO"], "range": ["#000000", "#F7791B", "#FAB06A"]}, "legend": {"orient": "none", "legendX": 252, "legendY": 70, "title": null}},
                  "shape": {"field": "group", "type": "nominal", "scale": {"domain": ["WT", "TEN-HET", "TEN-KO"], "range": ["circle", "square", "triangle-up"]}, "legend": {"orient": "none", "legendX": 252, "legendY": 70, "title": null}}
                }
              },
              {
                "data": {"values": [{}]},
                "mark": {"type": "rule", "color": "#333", "strokeWidth": 1.5},
                "encoding": {"x": {"datum": 0}, "y": {"datum": 0}, "y2": {"datum": 1}}
              },
              {
                "data": {"name": "midTEN_s"},
                "transform": [{"calculate": "datum.strain + 0.55 * (indexof(['WT','TEN-HET','TEN-KO'], datum.group) - 1)", "as": "xp"}],
                "layer": [
                  {"mark": {"type": "rule", "strokeWidth": 1.5}, "encoding": {"x": {"field": "xp", "type": "quantitative"}, "y": {"field": "lo", "type": "quantitative"}, "y2": {"field": "hi"}, "color": {"field": "group", "type": "nominal", "legend": null}}},
                  {"transform": [{"fold": ["lo", "hi"], "as": ["end", "ev"]}], "mark": {"type": "tick", "orient": "horizontal", "size": 7, "thickness": 1.5}, "encoding": {"x": {"field": "xp", "type": "quantitative"}, "y": {"field": "ev", "type": "quantitative"}, "color": {"field": "group", "type": "nominal", "legend": null}}},
                  {"mark": {"type": "tick", "orient": "horizontal", "size": 11, "thickness": 2, "color": "#000"}, "encoding": {"x": {"field": "xp", "type": "quantitative"}, "y": {"field": "mean", "type": "quantitative"}}}
                ]
              },
              {
                "data": {"name": "midTEN_p"},
                "transform": [
                  {"calculate": "datum.strain + 0.55 * (indexof(['WT','TEN-HET','TEN-KO'], datum.from) - 1) + 0.07", "as": "x1"},
                  {"calculate": "datum.strain + 0.55 * (indexof(['WT','TEN-HET','TEN-KO'], datum.to) - 1) - 0.07", "as": "x2"},
                  {"calculate": "(datum.x1 + datum.x2) / 2", "as": "xm"}
                ],
                "layer": [
                  {"mark": {"type": "rule", "color": "#8a8a8a", "strokeWidth": 1.5}, "encoding": {"x": {"field": "x1", "type": "quantitative"}, "x2": {"field": "x2"}, "y": {"field": "y", "type": "quantitative"}}},
                  {"mark": {"type": "text", "baseline": "alphabetic", "dy": -1, "fontSize": 12, "color": "#222"}, "encoding": {"x": {"field": "xm", "type": "quantitative"}, "y": {"field": "y", "type": "quantitative"}, "text": {"field": "label"}}}
                ]
              }
            ]
          }]
        }
      ]
    },
    {
      "spacing": 37,
      "resolve": {"scale": {"color": "independent", "shape": "independent"}},
      "hconcat": [
        {
          "title": {"text": "C", "anchor": "start", "frame": "bounds", "offset": -4.5, "dx": -3, "fontSize": 14},
          "resolve": {"scale": {"color": "independent", "shape": "independent"}},
          "vconcat": [{
            "width": 213, "height": 169,
            "title": {"text": "Insertion Region Realignment", "frame": "group", "offset": 3},
            "layer": [
              {
                "data": {"name": "insI"},
                "transform": [
                  {"window": [{"op": "row_number", "as": "rk"}], "groupby": ["strain", "group"], "sort": [{"field": "value", "order": "ascending"}]},
                  {"calculate": "datum.strain + 0.55 * (indexof(['WT','I-HET','I-NULL'], datum.group) - 1) + 0.1 * (datum.rk % 3 - 1)", "as": "xp"}
                ],
                "mark": {"type": "point", "filled": true, "size": 40, "opacity": 1},
                "encoding": {
                  "x": {"field": "xp", "type": "quantitative", "scale": {"domain": [-0.2, 9.75], "nice": false, "zero": false}, "axis": {"values": [1, 3, 5, 7, 9], "labelExpr": "datum.value + '%'", "title": "Strain"}},
                  "y": {"field": "value", "type": "quantitative", "scale": {"domain": [0, 1.19], "nice": false}, "axis": {"values": [0, 0.5, 1], "format": ".1f", "title": "Norm. Circ. Variance"}},
                  "color": {"field": "group", "type": "nominal", "scale": {"domain": ["WT", "I-HET", "I-NULL"], "range": ["#000000", "#1414E6", "#5AADF5"]}, "legend": null},
                  "shape": {"field": "group", "type": "nominal", "scale": {"domain": ["WT", "I-HET", "I-NULL"], "range": ["circle", "triangle-down", "diamond"]}, "legend": null}
                }
              },
              {
                "data": {"values": [{}]},
                "mark": {"type": "rule", "color": "#333", "strokeWidth": 1.5},
                "encoding": {"x": {"datum": -0.2}, "y": {"datum": 0}, "y2": {"datum": 1}}
              },
              {
                "data": {"name": "insI_s"},
                "transform": [{"calculate": "datum.strain + 0.55 * (indexof(['WT','I-HET','I-NULL'], datum.group) - 1)", "as": "xp"}],
                "layer": [
                  {"mark": {"type": "rule", "strokeWidth": 1.5}, "encoding": {"x": {"field": "xp", "type": "quantitative"}, "y": {"field": "lo", "type": "quantitative"}, "y2": {"field": "hi"}, "color": {"field": "group", "type": "nominal", "legend": null}}},
                  {"transform": [{"fold": ["lo", "hi"], "as": ["end", "ev"]}], "mark": {"type": "tick", "orient": "horizontal", "size": 7, "thickness": 1.5}, "encoding": {"x": {"field": "xp", "type": "quantitative"}, "y": {"field": "ev", "type": "quantitative"}, "color": {"field": "group", "type": "nominal", "legend": null}}},
                  {"mark": {"type": "tick", "orient": "horizontal", "size": 11, "thickness": 2, "color": "#000"}, "encoding": {"x": {"field": "xp", "type": "quantitative"}, "y": {"field": "mean", "type": "quantitative"}}}
                ]
              },
              {
                "data": {"name": "insI_p"},
                "transform": [
                  {"calculate": "datum.strain + 0.55 * (indexof(['WT','I-HET','I-NULL'], datum.from) - 1) + 0.07", "as": "x1"},
                  {"calculate": "datum.strain + 0.55 * (indexof(['WT','I-HET','I-NULL'], datum.to) - 1) - 0.07", "as": "x2"},
                  {"calculate": "(datum.x1 + datum.x2) / 2", "as": "xm"}
                ],
                "layer": [
                  {"mark": {"type": "rule", "color": "#8a8a8a", "strokeWidth": 1.5}, "encoding": {"x": {"field": "x1", "type": "quantitative"}, "x2": {"field": "x2"}, "y": {"field": "y", "type": "quantitative"}}},
                  {"mark": {"type": "text", "baseline": "alphabetic", "dy": -1, "fontSize": 12, "color": "#222"}, "encoding": {"x": {"field": "xm", "type": "quantitative"}, "y": {"field": "y", "type": "quantitative"}, "text": {"field": "label"}}}
                ]
              }
            ]
          }]
        },
        {
          "title": {"text": "D", "anchor": "start", "frame": "bounds", "offset": -4.5, "dx": -5, "fontSize": 14},
          "resolve": {"scale": {"color": "independent", "shape": "independent"}},
          "vconcat": [{
            "width": 227, "height": 165,
            "title": {"text": "Midsubstance Region Realignment", "frame": "group", "offset": 3},
            "layer": [
              {
                "data": {"name": "midI"},
                "transform": [
                  {"window": [{"op": "row_number", "as": "rk"}], "groupby": ["strain", "group"], "sort": [{"field": "value", "order": "ascending"}]},
                  {"calculate": "datum.strain + 0.55 * (indexof(['WT','I-HET','I-NULL'], datum.group) - 1) + 0.1 * (datum.rk % 3 - 1)", "as": "xp"}
                ],
                "mark": {"type": "point", "filled": true, "size": 40, "opacity": 1},
                "encoding": {
                  "x": {"field": "xp", "type": "quantitative", "scale": {"domain": [0, 9.9], "nice": false, "zero": false}, "axis": {"values": [1, 3, 5, 7, 9], "labelExpr": "datum.value + '%'", "title": "Strain"}},
                  "y": {"field": "value", "type": "quantitative", "scale": {"domain": [0, 1.107], "nice": false}, "axis": {"values": [0, 0.5, 1], "format": ".1f", "title": "Norm. Circ. Variance"}},
                  "color": {"field": "group", "type": "nominal", "scale": {"domain": ["WT", "I-HET", "I-NULL"], "range": ["#000000", "#1414E6", "#5AADF5"]}, "legend": {"orient": "none", "legendX": 256, "legendY": 74, "title": null}},
                  "shape": {"field": "group", "type": "nominal", "scale": {"domain": ["WT", "I-HET", "I-NULL"], "range": ["circle", "triangle-down", "diamond"]}, "legend": {"orient": "none", "legendX": 256, "legendY": 74, "title": null}}
                }
              },
              {
                "data": {"values": [{}]},
                "mark": {"type": "rule", "color": "#333", "strokeWidth": 1.5},
                "encoding": {"x": {"datum": 0}, "y": {"datum": 0}, "y2": {"datum": 1}}
              },
              {
                "data": {"name": "midI_s"},
                "transform": [{"calculate": "datum.strain + 0.55 * (indexof(['WT','I-HET','I-NULL'], datum.group) - 1)", "as": "xp"}],
                "layer": [
                  {"mark": {"type": "rule", "strokeWidth": 1.5}, "encoding": {"x": {"field": "xp", "type": "quantitative"}, "y": {"field": "lo", "type": "quantitative"}, "y2": {"field": "hi"}, "color": {"field": "group", "type": "nominal", "legend": null}}},
                  {"transform": [{"fold": ["lo", "hi"], "as": ["end", "ev"]}], "mark": {"type": "tick", "orient": "horizontal", "size": 7, "thickness": 1.5}, "encoding": {"x": {"field": "xp", "type": "quantitative"}, "y": {"field": "ev", "type": "quantitative"}, "color": {"field": "group", "type": "nominal", "legend": null}}},
                  {"mark": {"type": "tick", "orient": "horizontal", "size": 11, "thickness": 2, "color": "#000"}, "encoding": {"x": {"field": "xp", "type": "quantitative"}, "y": {"field": "mean", "type": "quantitative"}}}
                ]
              },
              {
                "data": {"name": "midI_p"},
                "transform": [
                  {"calculate": "datum.strain + 0.55 * (indexof(['WT','I-HET','I-NULL'], datum.from) - 1) + 0.07", "as": "x1"},
                  {"calculate": "datum.strain + 0.55 * (indexof(['WT','I-HET','I-NULL'], datum.to) - 1) - 0.07", "as": "x2"},
                  {"calculate": "(datum.x1 + datum.x2) / 2", "as": "xm"}
                ],
                "layer": [
                  {"mark": {"type": "rule", "color": "#8a8a8a", "strokeWidth": 1.5}, "encoding": {"x": {"field": "x1", "type": "quantitative"}, "x2": {"field": "x2"}, "y": {"field": "y", "type": "quantitative"}}},
                  {"mark": {"type": "text", "baseline": "alphabetic", "dy": -1, "fontSize": 12, "color": "#222"}, "encoding": {"x": {"field": "xm", "type": "quantitative"}, "y": {"field": "y", "type": "quantitative"}, "text": {"field": "label"}}}
                ]
              }
            ]
          }]
        }
      ]
    }
  ]
}
